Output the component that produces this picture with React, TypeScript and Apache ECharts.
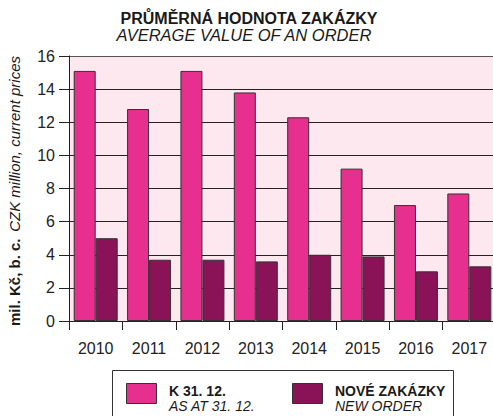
import React, { useEffect, useRef } from "react";
import * as echarts from "echarts";

const years = ["2010", "2011", "2012", "2013", "2014", "2015", "2016", "2017"];
const asAtYearEnd = [15.1, 12.8, 15.1, 13.8, 12.3, 9.2, 7.0, 7.7];
const newOrders = [5.0, 3.7, 3.7, 3.6, 4.0, 3.9, 3.0, 3.3];

const FONT = "'Liberation Sans', Arial, Helvetica, sans-serif";
const PINK = "#E62F8E";
const PLUM = "#8A1257";
const BORDER = "#333333";

export default function App() {
  const ref = useRef<HTMLDivElement>(null);
  useEffect(() => {
    if (!ref.current) return;
    const chart = echarts.init(ref.current, undefined, { renderer: "svg" });
    chart.setOption({
      animation: false,
      backgroundColor: "#ffffff",
      textStyle: { fontFamily: FONT },
      grid: {
        left: 69,
        top: 56,
        width: 427,
        height: 265,
        show: true,
        backgroundColor: "#FCE8EE",
        borderWidth: 0,
        containLabel: false,
        outerBoundsMode: "none",
      },
      xAxis: {
        type: "category",
        data: years,
        axisLine: { lineStyle: { color: "#222", width: 1 } },
        axisTick: { show: true, length: 9, lineStyle: { color: "#222" } },
        axisLabel: { color: "#222", fontSize: 16, margin: 19, fontFamily: FONT },
        splitLine: { show: false },
      },
      yAxis: {
        type: "value",
        min: 0,
        max: 16,
        interval: 2,
        axisLine: { show: true, lineStyle: { color: "#222", width: 1 } },
        axisTick: { show: true, length: 10, lineStyle: { color: "#222" } },
        axisLabel: { color: "#222", fontSize: 16, margin: 14, fontFamily: FONT },
        splitLine: {
          show: true,
          lineStyle: {
            color: ["#222", "#222", "#222", "#222", "#222", "#222", "#222", "#222", "#555"],
            width: 1,
          },
        },
      },
      series: [
        {
          name: "K 31. 12.",
          type: "bar",
          data: asAtYearEnd,
          barWidth: 22,
          barGap: "0%",
          itemStyle: { color: PINK, borderColor: BORDER, borderWidth: 1 },
        },
        {
          name: "NOVÉ ZAKÁZKY",
          type: "bar",
          data: newOrders,
          barWidth: 22,
          barGap: "0%",
          itemStyle: { color: PLUM, borderColor: BORDER, borderWidth: 1 },
        },
      ],
      graphic: [
        {
          type: "text",
          x: 249,
          y: 18,
          style: {
            text: "PRŮMĚRNÁ HODNOTA ZAKÁZKY",
            fontFamily: FONT,
            fontWeight: "bold",
            fontSize: 16,
            fill: "#1a1a1a",
            align: "center",
            verticalAlign: "middle",
          },
        },
        {
          type: "text",
          x: 244,
          y: 35,
          style: {
            text: "AVERAGE VALUE OF AN ORDER",
            fontFamily: FONT,
            fontStyle: "italic",
            fontSize: 16.5,
            fill: "#1a1a1a",
            align: "center",
            verticalAlign: "middle",
          },
        },
        {
          type: "text",
          x: 14,
          y: 191,
          rotation: Math.PI / 2,
          style: {
            text: "{b|mil. Kč, b. c.}  {i|CZK million, current prices}",
            align: "center",
            verticalAlign: "middle",
            fill: "#1a1a1a",
            rich: {
              b: { fontFamily: FONT, fontWeight: "bold", fontSize: 15, fill: "#1a1a1a" },
              i: { fontFamily: FONT, fontStyle: "italic", fontSize: 15, fill: "#1a1a1a" },
            },
          },
        },
        {
          type: "rect",
          shape: { x: 112.5, y: 370.5, width: 341, height: 60 },
          style: { fill: "#ffffff", stroke: "#333", lineWidth: 1 },
        },
        {
          type: "rect",
          shape: { x: 126.5, y: 383.5, width: 30, height: 20 },
          style: { fill: PINK, stroke: BORDER, lineWidth: 1 },
        },
        {
          type: "text",
          x: 169,
          y: 391,
          style: {
            text: "K 31. 12.",
            fontFamily: FONT,
            fontWeight: "bold",
            fontSize: 14,
            fill: "#1a1a1a",
            verticalAlign: "middle",
          },
        },
        {
          type: "text",
          x: 169,
          y: 406,
          style: {
            text: "AS AT 31. 12.",
            fontFamily: FONT,
            fontStyle: "italic",
            fontSize: 14,
            fill: "#1a1a1a",
            verticalAlign: "middle",
          },
        },
        {
          type: "rect",
          shape: { x: 292.5, y: 383.5, width: 30, height: 20 },
          style: { fill: PLUM, stroke: BORDER, lineWidth: 1 },
        },
        {
          type: "text",
          x: 335,
          y: 391,
          style: {
            text: "NOVÉ ZAKÁZKY",
            fontFamily: FONT,
            fontWeight: "bold",
            fontSize: 14,
            fill: "#1a1a1a",
            verticalAlign: "middle",
          },
        },
        {
          type: "text",
          x: 335,
          y: 406,
          style: {
            text: "NEW ORDER",
            fontFamily: FONT,
            fontStyle: "italic",
            fontSize: 14,
            fill: "#1a1a1a",
            verticalAlign: "middle",
          },
        },
      ],
    });
    return () => chart.dispose();
  }, []);
  return (
    <div
      ref={ref}
      style={{ position: "absolute", left: 0, top: 0, width: 493, height: 416 }}
    />
  );
}
